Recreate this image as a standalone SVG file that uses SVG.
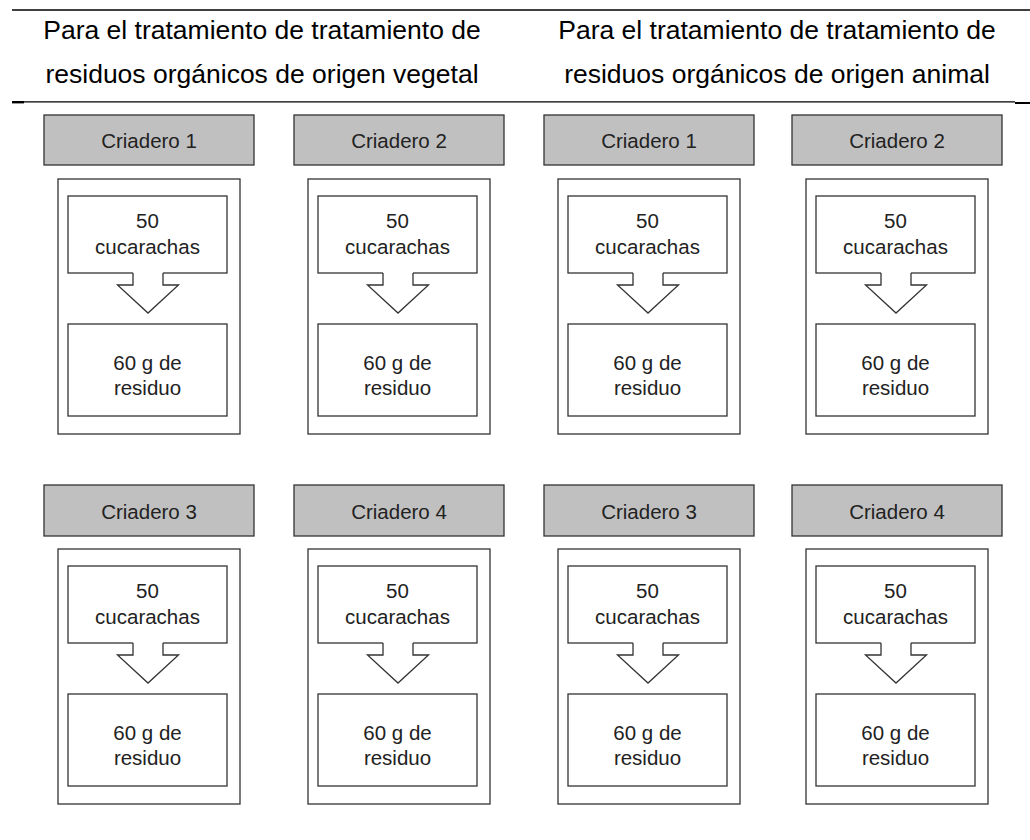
<svg xmlns="http://www.w3.org/2000/svg" width="1030" height="840" viewBox="0 0 1030 840">
<style>
.hdr{font-family:"Liberation Sans",Arial,sans-serif;font-size:26.5px;fill:#000;text-anchor:middle}
.t{font-family:"Liberation Sans",Arial,sans-serif;font-size:20.5px;fill:#222;text-anchor:middle}
.g{fill:#c0c0c0;stroke:#333;stroke-width:1.3}
.b{fill:#fff;stroke:#333;stroke-width:1.3}
.aw{fill:#fff;stroke:none}
.al{fill:none;stroke:#333;stroke-width:1.3;stroke-linejoin:miter}
</style>
<defs>
<g id="unit">
<rect class="b" x="14" y="64" width="182" height="255"/>
<rect class="b" x="24" y="81" width="159" height="77"/>
<rect class="b" x="24" y="209" width="159" height="92"/>
<polygon class="aw" points="89,156.5 89,170 73.5,170 104,198 134.5,170 119,170 119,156.5"/>
<polyline class="al" points="89,158 89,170 73.5,170 104,198 134.5,170 119,170 119,158"/>
<text class="t" x="103.5" y="113.3">50</text>
<text class="t" x="103.5" y="139">cucarachas</text>
<text class="t" x="103.5" y="255">60 g de</text>
<text class="t" x="103.5" y="280">residuo</text>
</g>
</defs>
<rect x="0" y="0" width="1030" height="840" fill="#fff"/>
<g id="table-lines">
<line x1="12" y1="10" x2="1030" y2="10" stroke="#000" stroke-width="1.5"/>
<line x1="12" y1="101.8" x2="1015" y2="101.8" stroke="#000" stroke-width="1.3"/>
<rect x="12" y="101" width="12" height="2.4" fill="#000"/>
<rect x="1015" y="102" width="15" height="2" fill="#000"/>
</g>
<g id="header-vegetal">
<text class="hdr" x="262" y="39">Para el tratamiento de tratamiento de</text>
<text class="hdr" x="262" y="83">residuos orgánicos de origen vegetal</text>
</g>
<g id="header-animal">
<text class="hdr" x="777" y="39">Para el tratamiento de tratamiento de</text>
<text class="hdr" x="777" y="83">residuos orgánicos de origen animal</text>
</g>
<g id="vegetal-criadero-1" transform="translate(44,115)"><rect class="g" x="0" y="0" width="210" height="50"/><text class="t" x="105" y="33.3">Criadero 1</text><use href="#unit"/></g>
<g id="vegetal-criadero-2" transform="translate(294,115)"><rect class="g" x="0" y="0" width="210" height="50"/><text class="t" x="105" y="33.3">Criadero 2</text><use href="#unit"/></g>
<g id="animal-criadero-1" transform="translate(544,115)"><rect class="g" x="0" y="0" width="210" height="50"/><text class="t" x="105" y="33.3">Criadero 1</text><use href="#unit"/></g>
<g id="animal-criadero-2" transform="translate(792,115)"><rect class="g" x="0" y="0" width="210" height="50"/><text class="t" x="105" y="33.3">Criadero 2</text><use href="#unit"/></g>
<g id="vegetal-criadero-3" transform="translate(44,485)"><rect class="g" x="0" y="0" width="210" height="51"/><text class="t" x="105" y="33.8">Criadero 3</text><use href="#unit"/></g>
<g id="vegetal-criadero-4" transform="translate(294,485)"><rect class="g" x="0" y="0" width="210" height="51"/><text class="t" x="105" y="33.8">Criadero 4</text><use href="#unit"/></g>
<g id="animal-criadero-3" transform="translate(544,485)"><rect class="g" x="0" y="0" width="210" height="51"/><text class="t" x="105" y="33.8">Criadero 3</text><use href="#unit"/></g>
<g id="animal-criadero-4" transform="translate(792,485)"><rect class="g" x="0" y="0" width="210" height="51"/><text class="t" x="105" y="33.8">Criadero 4</text><use href="#unit"/></g>
<g id="connectors"></g>
</svg>
